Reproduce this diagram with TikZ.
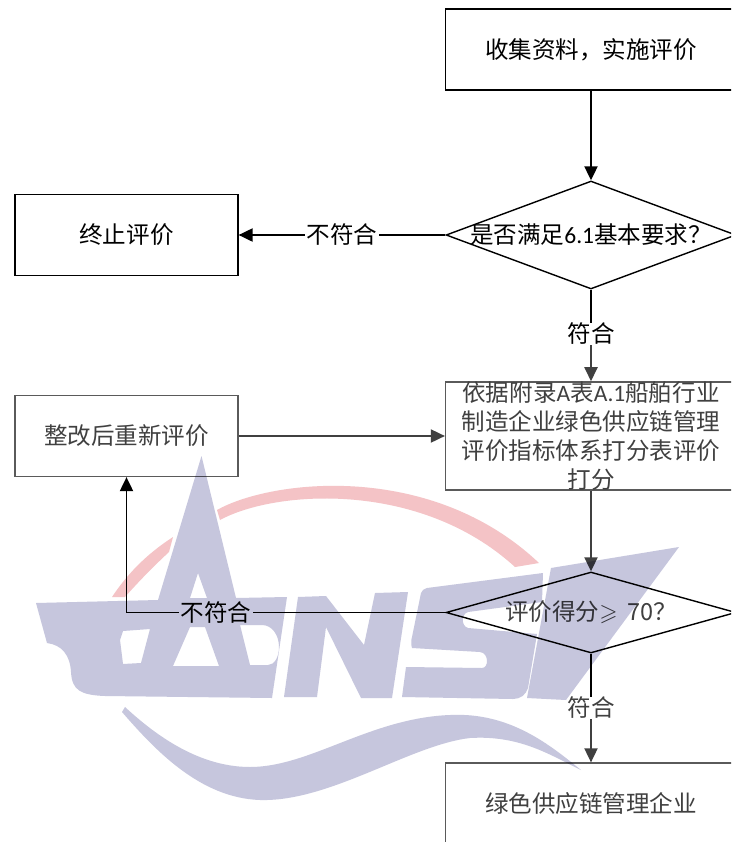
\documentclass[tikz,border=0pt]{standalone}
\usepackage{amssymb}
\usepackage{fontspec}
\usepackage{tikz}
\usetikzlibrary{arrows.meta, shapes.geometric}
\newfontfamily\zhfont{Noto Sans CJK SC}
\newfontfamily\latinfont{Carlito}
\newcommand{\zhsize}{\zhfont\fontsize{13.4pt}{16.4pt}\selectfont}
\definecolor{softink}{HTML}{404040}
\definecolor{softline}{HTML}{5A5A5A}
\definecolor{markblue}{HTML}{C6C6DD}
\definecolor{markred}{HTML}{F4C3C6}
\tikzset{
  every node/.style={font=\zhsize},
  boxnode/.style={draw=black, line width=0.75pt, fill=white, rectangle, minimum height=1.62cm},
  softbox/.style={boxnode, draw=softline, text=softink},
  decision/.style={draw=black, line width=0.8pt, fill=white, diamond, aspect=2.68, inner sep=0pt, minimum width=5.8cm},
  tagnode/.style={fill=white, inner xsep=1pt, inner ysep=0pt},
  flow/.style={draw=black, line width=0.95pt, -{Triangle[length=8pt,width=7.5pt]}},
  softflow/.style={draw=softink, line width=0.85pt, -{Triangle[length=8pt,width=7.5pt]}}
}
\begin{document}
\begin{tikzpicture}[x=0.02cm, y=-0.02cm]
\clip (0,0) rectangle (731,842);
\fill[white] (0,0) rectangle (731,842);

% right column
\node[boxnode, minimum width=5.82cm] (collect) at (591,49.5) {收集资料，实施评价};
\node[decision, minimum height=2.16cm, label=center:{是否满足{\latinfont 6.1}基本要求？}] (basic) at (591,235) {};
\node[softbox, minimum width=5.82cm, minimum height=2.16cm, align=center, inner sep=0pt] (rate) at (591,436)
  {依据附录{\latinfont A}表{\latinfont A.1}船舶行业\\制造企业绿色供应链管理\\评价指标体系打分表评价\\打分};
\node[decision, minimum height=1.62cm, label={[text=softink]center:{评价得分$\geqslant$\hspace{2.5pt} 70？}}] (score) at (591,612.5) {};
\node[softbox, minimum width=5.82cm] (green) at (591,803.5) {绿色供应链管理企业};

% left column
\node[boxnode, minimum width=4.46cm] (stop) at (126.5,235) {终止评价};
\node[softbox, minimum width=4.46cm] (redo) at (126.5,436) {整改后重新评价};

% labels on the way down
\node[inner sep=0pt] (pass1) at (591,334) {符合};
\node[inner sep=0pt, text=softink] (pass2) at (591,708) {符合};

% connectors
\draw[flow] (collect) -- (basic);
\draw[flow] (basic) -- node[tagnode] (fail1) {不符合} (stop);
\draw[draw=black, line width=0.95pt] (basic) -- (pass1);
\draw[softflow] (pass1) -- (rate);
\draw[softflow] (redo) -- (rate);
\draw[softflow] (rate) -- (score);
\draw[flow] (score) -| node[tagnode, pos=0.36] (fail2) {不符合} (redo);
\draw[draw=black, line width=0.95pt] (score) -- (pass2);
\draw[softflow] (pass2) -- (green);

% watermark
\begin{scope}[blend mode=multiply]
% red arc
\fill[markred] (112,597) .. controls (130,570) and (150,552) .. (173,537)
  -- (169,552) .. controls (155,565) and (140,580) .. (125,597) -- cycle;
\fill[markred] (217,510) .. controls (270,480) and (430,460) .. (539,563)
  -- (515,567) .. controls (420,480) and (275,490) .. (220,520) -- cycle;
% hull with mast and holes
\fill[markblue, even odd rule] (36,603) -- (158,600) -- (201.5,456) -- (236,598) -- (287,597) -- (272,698)
  -- (105,696) .. controls (80,695) and (72,690) .. (71,672)
  .. controls (70,655) and (62,645) .. (47,643) -- cycle
  (198,573) -- (207,598) -- (190,598) -- cycle
  (123,631) -- (150,629) -- (141,663) -- (123,664) -- (120,640) -- cycle
  (190,627) -- (205,627) -- (219,666) -- (173,666) -- cycle
  (240,625) -- (262,625) .. controls (272,625) and (279,635) .. (279,647)
  .. controls (279,656) and (275,665) .. (268,665) -- (250,665) -- cycle;
% N
\fill[markblue] (298,597) -- (284,697) -- (317,697) -- (326,627) -- (361,698) -- (392,698)
  -- (408,592) -- (375,593) -- (364,645) -- (326,596) -- cycle;
% S
\fill[markblue] (543,573) -- (542,602) -- (468,612) .. controls (461,614) and (461,626) .. (468,628)
  -- (537,634) -- (528,688) .. controls (526,695) and (520,699) .. (513,699) -- (402,697) -- (406,667)
  -- (482,668) .. controls (489,668) and (489,653) .. (480,652) -- (412,648)
  .. controls (411,645) and (411,640) .. (412,637) -- (421,593) .. controls (422,590) and (424,589) .. (427,588) -- cycle;
% I
\fill[markblue] (551,568) -- (679,547) -- (566,700) -- (527,698) -- cycle;
% wave
\fill[markblue] (125,707) .. controls (150,730) and (195,767) .. (250,767)
  .. controls (310,767) and (370,718) .. (450,715)
  .. controls (510,712) and (550,745) .. (581,770)
  .. controls (550,755) and (520,735) .. (470,738)
  .. controls (410,745) and (330,802) .. (260,800)
  .. controls (200,798) and (155,750) .. (122,712) -- cycle;
\end{scope}
\end{tikzpicture}
\end{document}
